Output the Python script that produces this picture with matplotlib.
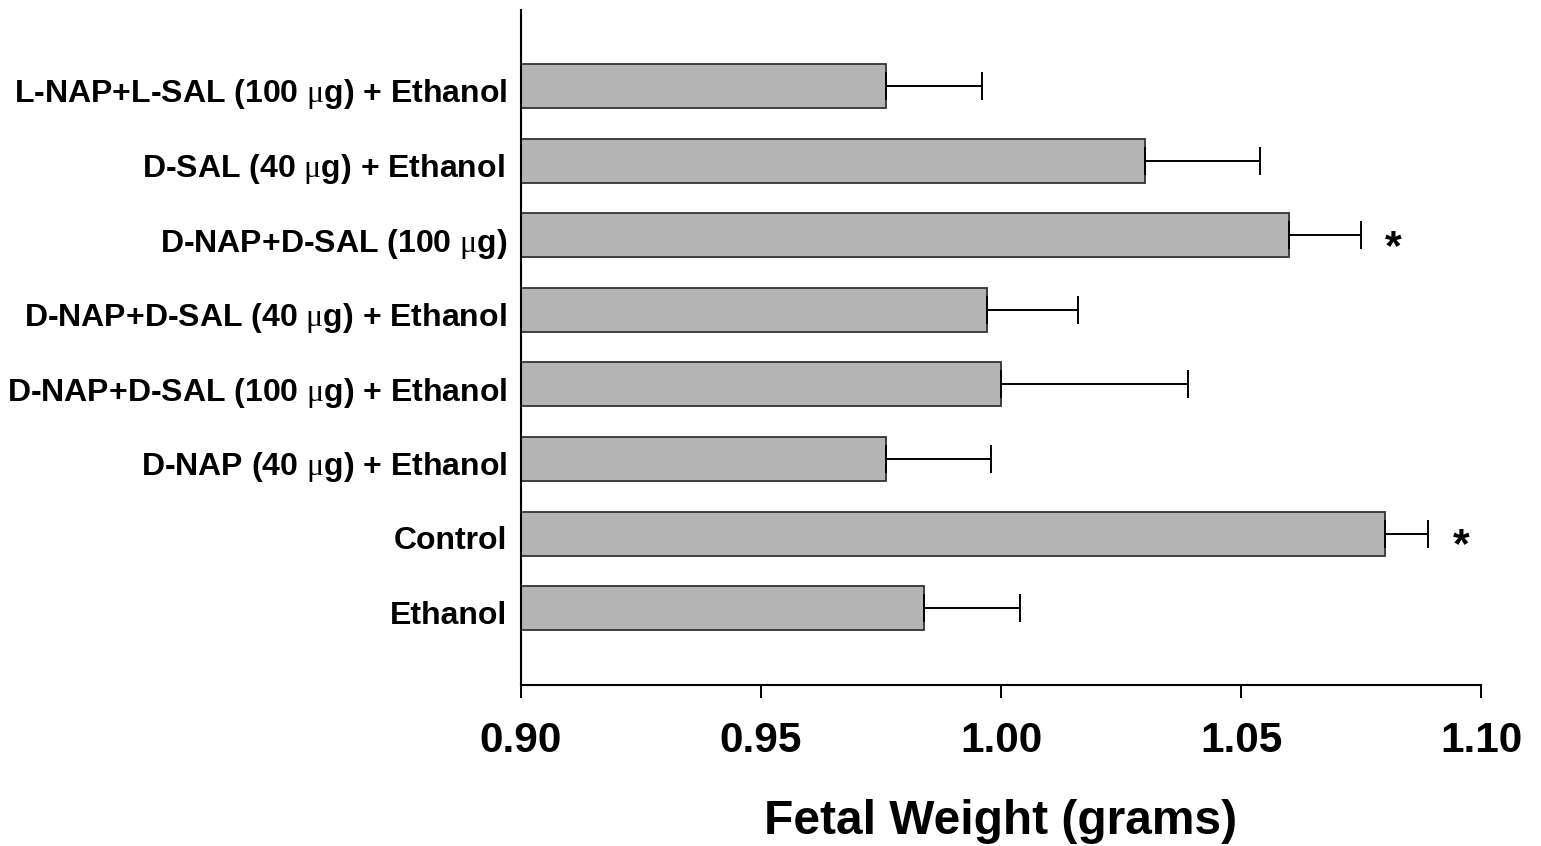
import numpy as np
import matplotlib
matplotlib.use("Agg")
import matplotlib.pyplot as plt
import matplotlib.transforms as mtransforms

plt.rcParams['font.family'] = ['Liberation Sans', 'DejaVu Sans']
plt.rcParams['mathtext.fontset'] = 'custom'
plt.rcParams['mathtext.rm'] = 'Liberation Serif'

# data, bottom to top
groups = ["Ethanol",
          "Control",
          r"D-NAP (40 $\mathrm{μ}$g) + Ethanol",
          r"D-NAP+D-SAL (100 $\mathrm{μ}$g) + Ethanol",
          r"D-NAP+D-SAL (40 $\mathrm{μ}$g) + Ethanol",
          r"D-NAP+D-SAL (100 $\mathrm{μ}$g)",
          r"D-SAL (40 $\mathrm{μ}$g) + Ethanol ",
          r"L-NAP+L-SAL (100 $\mathrm{μ}$g) + Ethanol"]
weight = [0.984, 1.080, 0.976, 1.000, 0.997, 1.060, 1.030, 0.976]
sem = [0.020, 0.009, 0.022, 0.039, 0.019, 0.015, 0.024, 0.020]
signif = [False, True, False, False, False, True, False, False]
xticks = [0.90, 0.95, 1.00, 1.05, 1.10]

fig = plt.figure(figsize=(15.41, 8.46), dpi=100)
ax = fig.add_axes([0.3381, 0.1903, 0.623, 0.798])

y = np.arange(len(groups))
base = 0.90
ax.barh(y, np.array(weight) - base, left=base, height=0.59,
        color="#b4b4b4", edgecolor="#333333", linewidth=1.3, zorder=2)
ax.errorbar(weight, y, xerr=[np.zeros(len(sem)), sem], fmt="none",
            ecolor="black", elinewidth=1.4, capsize=10, capthick=1.4, zorder=3)

for yi, w, s, star in zip(y, weight, sem, signif):
    if star:
        ax.text(w + s + 0.0068, yi - 0.17, "*", ha="center", va="center",
                fontsize=31, fontweight="bold")

ax.set_xlim(0.90, 1.10)
ax.set_ylim(-1.03, len(groups) - 1 + 1.02)
ax.set_xticks(xticks)
ax.set_xticklabels(["%.2f" % t for t in xticks], fontsize=30.5, fontweight="bold")
ax.set_yticks(y)
ax.set_yticklabels(groups, fontsize=23, fontweight="bold")
ax.tick_params(axis="y", length=0, pad=10)
ax.tick_params(axis="x", length=9, width=1.4, pad=17, direction="out")
ax.set_xlabel("Fetal Weight (grams)", fontsize=34.5, fontweight="bold", labelpad=27)

# labels sit a little below the bar centres in the original
shift = mtransforms.ScaledTranslation(0, -0.04, fig.dpi_scale_trans)
for lab in ax.get_yticklabels():
    lab.set_transform(lab.get_transform() + shift)

for side in ["top", "right"]:
    ax.spines[side].set_visible(False)
for side in ["left", "bottom"]:
    ax.spines[side].set_linewidth(1.5)

fig.savefig("out.png", dpi=100)
